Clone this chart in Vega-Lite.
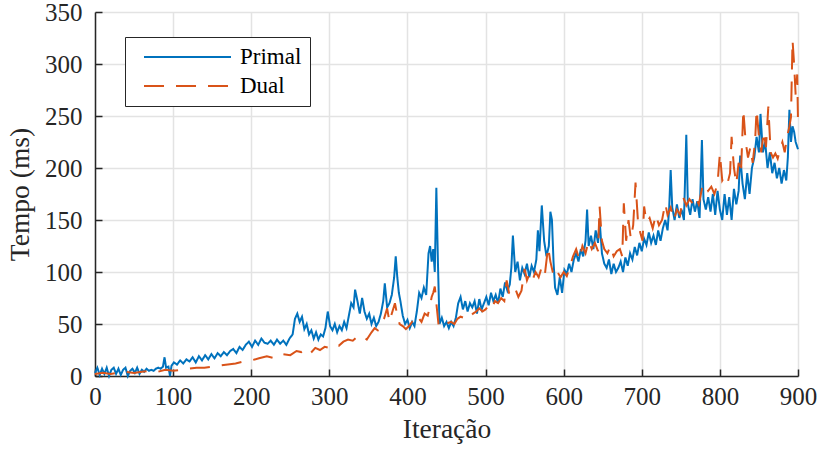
{
  "$schema": "https://vega.github.io/schema/vega-lite/v6.json",
  "width": 703,
  "height": 364,
  "autosize": "none",
  "padding": {"left": 95, "top": 12, "right": 22, "bottom": 74},
  "background": "white",
  "config": {
    "view": {"stroke": null},
    "font": "Liberation Serif",
    "legend": {"strokeColor": "#262626"},
    "axis": {
      "domainColor": "#262626",
      "domainWidth": 1.5,
      "tickColor": "#262626",
      "tickWidth": 1.5,
      "tickSize": -7,
      "gridColor": "#e3e3e3",
      "gridWidth": 1.5,
      "labelFont": "Liberation Serif",
      "labelFontSize": 25,
      "labelColor": "#262626",
      "labelFlush": false,
      "titleFont": "Liberation Serif",
      "titleFontSize": 27.5,
      "titleFontWeight": "normal",
      "titleColor": "#262626"
    }
  },
  "data": {
    "values": [
      {"it":0,"t":3,"s":"Primal"},{"it":3,"t":8,"s":"Primal"},{"it":6,"t":1,"s":"Primal"},{"it":9,"t":7,"s":"Primal"},{"it":12,"t":2,"s":"Primal"},{"it":15,"t":8,"s":"Primal"},{"it":18,"t":0,"s":"Primal"},{"it":21,"t":6,"s":"Primal"},{"it":24,"t":8,"s":"Primal"},{"it":27,"t":2,"s":"Primal"},{"it":30,"t":7,"s":"Primal"},{"it":33,"t":1,"s":"Primal"},{"it":36,"t":6,"s":"Primal"},{"it":39,"t":8,"s":"Primal"},{"it":42,"t":0,"s":"Primal"},{"it":45,"t":5,"s":"Primal"},{"it":48,"t":7,"s":"Primal"},{"it":51,"t":3,"s":"Primal"},{"it":54,"t":8,"s":"Primal"},{"it":57,"t":2,"s":"Primal"},{"it":60,"t":6,"s":"Primal"},{"it":63,"t":4,"s":"Primal"},{"it":66,"t":7,"s":"Primal"},{"it":69,"t":5,"s":"Primal"},{"it":72,"t":6,"s":"Primal"},{"it":75,"t":5,"s":"Primal"},{"it":78,"t":7,"s":"Primal"},{"it":81,"t":8,"s":"Primal"},{"it":84,"t":7,"s":"Primal"},{"it":87,"t":9,"s":"Primal"},{"it":89,"t":18,"s":"Primal"},{"it":91,"t":8,"s":"Primal"},{"it":94,"t":9,"s":"Primal"},{"it":96,"t":0,"s":"Primal"},{"it":98,"t":10,"s":"Primal"},{"it":101,"t":13,"s":"Primal"},{"it":105,"t":11,"s":"Primal"},{"it":109,"t":15,"s":"Primal"},{"it":113,"t":12,"s":"Primal"},{"it":117,"t":16,"s":"Primal"},{"it":121,"t":14,"s":"Primal"},{"it":125,"t":18,"s":"Primal"},{"it":129,"t":13,"s":"Primal"},{"it":133,"t":19,"s":"Primal"},{"it":137,"t":15,"s":"Primal"},{"it":141,"t":20,"s":"Primal"},{"it":145,"t":16,"s":"Primal"},{"it":149,"t":21,"s":"Primal"},{"it":153,"t":17,"s":"Primal"},{"it":157,"t":22,"s":"Primal"},{"it":161,"t":19,"s":"Primal"},{"it":165,"t":23,"s":"Primal"},{"it":169,"t":20,"s":"Primal"},{"it":173,"t":24,"s":"Primal"},{"it":177,"t":26,"s":"Primal"},{"it":181,"t":22,"s":"Primal"},{"it":185,"t":28,"s":"Primal"},{"it":189,"t":25,"s":"Primal"},{"it":193,"t":30,"s":"Primal"},{"it":197,"t":33,"s":"Primal"},{"it":201,"t":28,"s":"Primal"},{"it":205,"t":34,"s":"Primal"},{"it":209,"t":30,"s":"Primal"},{"it":213,"t":36,"s":"Primal"},{"it":217,"t":32,"s":"Primal"},{"it":221,"t":31,"s":"Primal"},{"it":225,"t":34,"s":"Primal"},{"it":229,"t":30,"s":"Primal"},{"it":233,"t":35,"s":"Primal"},{"it":237,"t":31,"s":"Primal"},{"it":241,"t":34,"s":"Primal"},{"it":245,"t":30,"s":"Primal"},{"it":249,"t":36,"s":"Primal"},{"it":253,"t":40,"s":"Primal"},{"it":256,"t":55,"s":"Primal"},{"it":259,"t":60,"s":"Primal"},{"it":262,"t":52,"s":"Primal"},{"it":265,"t":57,"s":"Primal"},{"it":268,"t":45,"s":"Primal"},{"it":271,"t":50,"s":"Primal"},{"it":274,"t":40,"s":"Primal"},{"it":277,"t":44,"s":"Primal"},{"it":280,"t":36,"s":"Primal"},{"it":283,"t":42,"s":"Primal"},{"it":286,"t":35,"s":"Primal"},{"it":289,"t":40,"s":"Primal"},{"it":292,"t":38,"s":"Primal"},{"it":295,"t":46,"s":"Primal"},{"it":298,"t":62,"s":"Primal"},{"it":301,"t":48,"s":"Primal"},{"it":304,"t":44,"s":"Primal"},{"it":307,"t":50,"s":"Primal"},{"it":310,"t":42,"s":"Primal"},{"it":313,"t":48,"s":"Primal"},{"it":316,"t":44,"s":"Primal"},{"it":319,"t":52,"s":"Primal"},{"it":322,"t":46,"s":"Primal"},{"it":325,"t":58,"s":"Primal"},{"it":328,"t":70,"s":"Primal"},{"it":331,"t":66,"s":"Primal"},{"it":333,"t":83,"s":"Primal"},{"it":336,"t":72,"s":"Primal"},{"it":339,"t":60,"s":"Primal"},{"it":342,"t":75,"s":"Primal"},{"it":345,"t":62,"s":"Primal"},{"it":348,"t":55,"s":"Primal"},{"it":351,"t":60,"s":"Primal"},{"it":354,"t":50,"s":"Primal"},{"it":357,"t":56,"s":"Primal"},{"it":360,"t":48,"s":"Primal"},{"it":363,"t":52,"s":"Primal"},{"it":366,"t":60,"s":"Primal"},{"it":369,"t":72,"s":"Primal"},{"it":371,"t":89,"s":"Primal"},{"it":374,"t":66,"s":"Primal"},{"it":377,"t":70,"s":"Primal"},{"it":380,"t":78,"s":"Primal"},{"it":383,"t":95,"s":"Primal"},{"it":385,"t":115,"s":"Primal"},{"it":387,"t":95,"s":"Primal"},{"it":389,"t":80,"s":"Primal"},{"it":391,"t":72,"s":"Primal"},{"it":394,"t":58,"s":"Primal"},{"it":397,"t":50,"s":"Primal"},{"it":400,"t":54,"s":"Primal"},{"it":403,"t":46,"s":"Primal"},{"it":406,"t":52,"s":"Primal"},{"it":409,"t":48,"s":"Primal"},{"it":412,"t":62,"s":"Primal"},{"it":415,"t":80,"s":"Primal"},{"it":418,"t":75,"s":"Primal"},{"it":421,"t":85,"s":"Primal"},{"it":424,"t":78,"s":"Primal"},{"it":427,"t":118,"s":"Primal"},{"it":429,"t":125,"s":"Primal"},{"it":431,"t":110,"s":"Primal"},{"it":433,"t":122,"s":"Primal"},{"it":435,"t":100,"s":"Primal"},{"it":437,"t":181,"s":"Primal"},{"it":439,"t":110,"s":"Primal"},{"it":441,"t":50,"s":"Primal"},{"it":444,"t":56,"s":"Primal"},{"it":447,"t":48,"s":"Primal"},{"it":450,"t":52,"s":"Primal"},{"it":453,"t":46,"s":"Primal"},{"it":456,"t":52,"s":"Primal"},{"it":459,"t":48,"s":"Primal"},{"it":462,"t":56,"s":"Primal"},{"it":465,"t":70,"s":"Primal"},{"it":468,"t":76,"s":"Primal"},{"it":471,"t":64,"s":"Primal"},{"it":474,"t":72,"s":"Primal"},{"it":477,"t":62,"s":"Primal"},{"it":480,"t":70,"s":"Primal"},{"it":483,"t":66,"s":"Primal"},{"it":486,"t":72,"s":"Primal"},{"it":489,"t":60,"s":"Primal"},{"it":492,"t":74,"s":"Primal"},{"it":495,"t":64,"s":"Primal"},{"it":498,"t":70,"s":"Primal"},{"it":501,"t":76,"s":"Primal"},{"it":504,"t":68,"s":"Primal"},{"it":507,"t":80,"s":"Primal"},{"it":510,"t":72,"s":"Primal"},{"it":513,"t":78,"s":"Primal"},{"it":516,"t":70,"s":"Primal"},{"it":519,"t":84,"s":"Primal"},{"it":522,"t":76,"s":"Primal"},{"it":525,"t":90,"s":"Primal"},{"it":528,"t":82,"s":"Primal"},{"it":531,"t":88,"s":"Primal"},{"it":533,"t":104,"s":"Primal"},{"it":535,"t":135,"s":"Primal"},{"it":538,"t":100,"s":"Primal"},{"it":541,"t":110,"s":"Primal"},{"it":544,"t":92,"s":"Primal"},{"it":547,"t":104,"s":"Primal"},{"it":550,"t":98,"s":"Primal"},{"it":553,"t":108,"s":"Primal"},{"it":556,"t":95,"s":"Primal"},{"it":559,"t":106,"s":"Primal"},{"it":562,"t":100,"s":"Primal"},{"it":565,"t":112,"s":"Primal"},{"it":567,"t":140,"s":"Primal"},{"it":569,"t":120,"s":"Primal"},{"it":572,"t":164,"s":"Primal"},{"it":575,"t":130,"s":"Primal"},{"it":578,"t":115,"s":"Primal"},{"it":581,"t":125,"s":"Primal"},{"it":583,"t":158,"s":"Primal"},{"it":585,"t":150,"s":"Primal"},{"it":587,"t":110,"s":"Primal"},{"it":589,"t":85,"s":"Primal"},{"it":592,"t":78,"s":"Primal"},{"it":595,"t":95,"s":"Primal"},{"it":598,"t":80,"s":"Primal"},{"it":601,"t":102,"s":"Primal"},{"it":604,"t":98,"s":"Primal"},{"it":607,"t":108,"s":"Primal"},{"it":610,"t":100,"s":"Primal"},{"it":613,"t":112,"s":"Primal"},{"it":616,"t":118,"s":"Primal"},{"it":619,"t":110,"s":"Primal"},{"it":622,"t":122,"s":"Primal"},{"it":625,"t":115,"s":"Primal"},{"it":628,"t":130,"s":"Primal"},{"it":630,"t":160,"s":"Primal"},{"it":632,"t":125,"s":"Primal"},{"it":635,"t":135,"s":"Primal"},{"it":638,"t":122,"s":"Primal"},{"it":641,"t":140,"s":"Primal"},{"it":644,"t":128,"s":"Primal"},{"it":646,"t":150,"s":"Primal"},{"it":649,"t":118,"s":"Primal"},{"it":652,"t":108,"s":"Primal"},{"it":655,"t":104,"s":"Primal"},{"it":658,"t":112,"s":"Primal"},{"it":661,"t":98,"s":"Primal"},{"it":664,"t":108,"s":"Primal"},{"it":667,"t":100,"s":"Primal"},{"it":670,"t":104,"s":"Primal"},{"it":673,"t":110,"s":"Primal"},{"it":676,"t":100,"s":"Primal"},{"it":679,"t":114,"s":"Primal"},{"it":682,"t":106,"s":"Primal"},{"it":685,"t":118,"s":"Primal"},{"it":688,"t":112,"s":"Primal"},{"it":691,"t":124,"s":"Primal"},{"it":694,"t":116,"s":"Primal"},{"it":697,"t":128,"s":"Primal"},{"it":700,"t":120,"s":"Primal"},{"it":703,"t":132,"s":"Primal"},{"it":706,"t":126,"s":"Primal"},{"it":709,"t":138,"s":"Primal"},{"it":712,"t":128,"s":"Primal"},{"it":715,"t":135,"s":"Primal"},{"it":718,"t":126,"s":"Primal"},{"it":721,"t":140,"s":"Primal"},{"it":724,"t":130,"s":"Primal"},{"it":727,"t":142,"s":"Primal"},{"it":730,"t":150,"s":"Primal"},{"it":733,"t":140,"s":"Primal"},{"it":735,"t":160,"s":"Primal"},{"it":737,"t":198,"s":"Primal"},{"it":739,"t":162,"s":"Primal"},{"it":742,"t":150,"s":"Primal"},{"it":745,"t":165,"s":"Primal"},{"it":748,"t":152,"s":"Primal"},{"it":751,"t":160,"s":"Primal"},{"it":754,"t":150,"s":"Primal"},{"it":757,"t":232,"s":"Primal"},{"it":759,"t":165,"s":"Primal"},{"it":762,"t":155,"s":"Primal"},{"it":765,"t":170,"s":"Primal"},{"it":768,"t":158,"s":"Primal"},{"it":771,"t":168,"s":"Primal"},{"it":774,"t":152,"s":"Primal"},{"it":777,"t":227,"s":"Primal"},{"it":779,"t":170,"s":"Primal"},{"it":782,"t":160,"s":"Primal"},{"it":785,"t":172,"s":"Primal"},{"it":788,"t":158,"s":"Primal"},{"it":791,"t":175,"s":"Primal"},{"it":794,"t":155,"s":"Primal"},{"it":797,"t":178,"s":"Primal"},{"it":800,"t":160,"s":"Primal"},{"it":803,"t":150,"s":"Primal"},{"it":806,"t":175,"s":"Primal"},{"it":809,"t":155,"s":"Primal"},{"it":812,"t":172,"s":"Primal"},{"it":815,"t":150,"s":"Primal"},{"it":818,"t":180,"s":"Primal"},{"it":821,"t":165,"s":"Primal"},{"it":824,"t":178,"s":"Primal"},{"it":826,"t":212,"s":"Primal"},{"it":829,"t":185,"s":"Primal"},{"it":832,"t":170,"s":"Primal"},{"it":835,"t":195,"s":"Primal"},{"it":838,"t":175,"s":"Primal"},{"it":841,"t":200,"s":"Primal"},{"it":844,"t":210,"s":"Primal"},{"it":847,"t":230,"s":"Primal"},{"it":850,"t":215,"s":"Primal"},{"it":852,"t":252,"s":"Primal"},{"it":855,"t":215,"s":"Primal"},{"it":858,"t":225,"s":"Primal"},{"it":861,"t":200,"s":"Primal"},{"it":864,"t":215,"s":"Primal"},{"it":867,"t":195,"s":"Primal"},{"it":870,"t":205,"s":"Primal"},{"it":873,"t":190,"s":"Primal"},{"it":876,"t":200,"s":"Primal"},{"it":879,"t":185,"s":"Primal"},{"it":882,"t":198,"s":"Primal"},{"it":885,"t":188,"s":"Primal"},{"it":887,"t":210,"s":"Primal"},{"it":889,"t":256,"s":"Primal"},{"it":891,"t":225,"s":"Primal"},{"it":893,"t":240,"s":"Primal"},{"it":895,"t":235,"s":"Primal"},{"it":897,"t":225,"s":"Primal"},{"it":900,"t":218,"s":"Primal"},
      {"it":0,"t":2,"s":"Dual"},{"it":10,"t":3,"s":"Dual"},{"it":20,"t":2,"s":"Dual"},{"it":30,"t":3,"s":"Dual"},{"it":40,"t":4,"s":"Dual"},{"it":50,"t":3,"s":"Dual"},{"it":60,"t":4,"s":"Dual"},{"it":70,"t":5,"s":"Dual"},{"it":80,"t":4,"s":"Dual"},{"it":90,"t":6,"s":"Dual"},{"it":100,"t":5,"s":"Dual"},{"it":110,"t":6,"s":"Dual"},{"it":120,"t":7,"s":"Dual"},{"it":130,"t":8,"s":"Dual"},{"it":140,"t":8,"s":"Dual"},{"it":150,"t":9,"s":"Dual"},{"it":160,"t":10,"s":"Dual"},{"it":170,"t":11,"s":"Dual"},{"it":180,"t":12,"s":"Dual"},{"it":190,"t":14,"s":"Dual"},{"it":200,"t":15,"s":"Dual"},{"it":210,"t":17,"s":"Dual"},{"it":220,"t":19,"s":"Dual"},{"it":230,"t":17,"s":"Dual"},{"it":240,"t":21,"s":"Dual"},{"it":250,"t":20,"s":"Dual"},{"it":258,"t":24,"s":"Dual"},{"it":264,"t":23,"s":"Dual"},{"it":270,"t":26,"s":"Dual"},{"it":276,"t":22,"s":"Dual"},{"it":282,"t":27,"s":"Dual"},{"it":288,"t":25,"s":"Dual"},{"it":294,"t":28,"s":"Dual"},{"it":300,"t":27,"s":"Dual"},{"it":306,"t":30,"s":"Dual"},{"it":312,"t":29,"s":"Dual"},{"it":318,"t":33,"s":"Dual"},{"it":324,"t":35,"s":"Dual"},{"it":330,"t":34,"s":"Dual"},{"it":336,"t":38,"s":"Dual"},{"it":342,"t":39,"s":"Dual"},{"it":348,"t":35,"s":"Dual"},{"it":354,"t":42,"s":"Dual"},{"it":358,"t":46,"s":"Dual"},{"it":362,"t":44,"s":"Dual"},{"it":366,"t":50,"s":"Dual"},{"it":370,"t":55,"s":"Dual"},{"it":374,"t":65,"s":"Dual"},{"it":377,"t":52,"s":"Dual"},{"it":380,"t":60,"s":"Dual"},{"it":384,"t":70,"s":"Dual"},{"it":387,"t":58,"s":"Dual"},{"it":390,"t":50,"s":"Dual"},{"it":394,"t":48,"s":"Dual"},{"it":398,"t":45,"s":"Dual"},{"it":402,"t":48,"s":"Dual"},{"it":406,"t":52,"s":"Dual"},{"it":410,"t":50,"s":"Dual"},{"it":414,"t":56,"s":"Dual"},{"it":418,"t":52,"s":"Dual"},{"it":422,"t":60,"s":"Dual"},{"it":426,"t":58,"s":"Dual"},{"it":429,"t":68,"s":"Dual"},{"it":431,"t":76,"s":"Dual"},{"it":433,"t":80,"s":"Dual"},{"it":435,"t":86,"s":"Dual"},{"it":437,"t":70,"s":"Dual"},{"it":440,"t":48,"s":"Dual"},{"it":444,"t":50,"s":"Dual"},{"it":448,"t":49,"s":"Dual"},{"it":452,"t":51,"s":"Dual"},{"it":456,"t":52,"s":"Dual"},{"it":460,"t":50,"s":"Dual"},{"it":464,"t":55,"s":"Dual"},{"it":468,"t":57,"s":"Dual"},{"it":472,"t":56,"s":"Dual"},{"it":476,"t":59,"s":"Dual"},{"it":480,"t":57,"s":"Dual"},{"it":484,"t":60,"s":"Dual"},{"it":488,"t":62,"s":"Dual"},{"it":492,"t":65,"s":"Dual"},{"it":496,"t":62,"s":"Dual"},{"it":500,"t":64,"s":"Dual"},{"it":504,"t":68,"s":"Dual"},{"it":508,"t":65,"s":"Dual"},{"it":512,"t":72,"s":"Dual"},{"it":516,"t":70,"s":"Dual"},{"it":520,"t":75,"s":"Dual"},{"it":524,"t":72,"s":"Dual"},{"it":527,"t":92,"s":"Dual"},{"it":530,"t":80,"s":"Dual"},{"it":534,"t":78,"s":"Dual"},{"it":538,"t":84,"s":"Dual"},{"it":542,"t":76,"s":"Dual"},{"it":546,"t":82,"s":"Dual"},{"it":550,"t":103,"s":"Dual"},{"it":553,"t":92,"s":"Dual"},{"it":556,"t":98,"s":"Dual"},{"it":560,"t":92,"s":"Dual"},{"it":564,"t":100,"s":"Dual"},{"it":568,"t":95,"s":"Dual"},{"it":572,"t":105,"s":"Dual"},{"it":576,"t":98,"s":"Dual"},{"it":580,"t":124,"s":"Dual"},{"it":583,"t":110,"s":"Dual"},{"it":586,"t":100,"s":"Dual"},{"it":589,"t":95,"s":"Dual"},{"it":592,"t":100,"s":"Dual"},{"it":596,"t":95,"s":"Dual"},{"it":600,"t":100,"s":"Dual"},{"it":604,"t":96,"s":"Dual"},{"it":608,"t":105,"s":"Dual"},{"it":612,"t":115,"s":"Dual"},{"it":616,"t":122,"s":"Dual"},{"it":620,"t":112,"s":"Dual"},{"it":624,"t":125,"s":"Dual"},{"it":628,"t":118,"s":"Dual"},{"it":632,"t":130,"s":"Dual"},{"it":636,"t":122,"s":"Dual"},{"it":640,"t":128,"s":"Dual"},{"it":644,"t":120,"s":"Dual"},{"it":646,"t":163,"s":"Dual"},{"it":649,"t":130,"s":"Dual"},{"it":652,"t":122,"s":"Dual"},{"it":656,"t":118,"s":"Dual"},{"it":660,"t":125,"s":"Dual"},{"it":664,"t":115,"s":"Dual"},{"it":668,"t":120,"s":"Dual"},{"it":672,"t":122,"s":"Dual"},{"it":675,"t":115,"s":"Dual"},{"it":677,"t":166,"s":"Dual"},{"it":680,"t":130,"s":"Dual"},{"it":683,"t":150,"s":"Dual"},{"it":686,"t":132,"s":"Dual"},{"it":689,"t":145,"s":"Dual"},{"it":692,"t":186,"s":"Dual"},{"it":695,"t":150,"s":"Dual"},{"it":698,"t":138,"s":"Dual"},{"it":701,"t":130,"s":"Dual"},{"it":703,"t":163,"s":"Dual"},{"it":706,"t":148,"s":"Dual"},{"it":710,"t":152,"s":"Dual"},{"it":714,"t":142,"s":"Dual"},{"it":718,"t":155,"s":"Dual"},{"it":722,"t":145,"s":"Dual"},{"it":726,"t":150,"s":"Dual"},{"it":730,"t":166,"s":"Dual"},{"it":733,"t":155,"s":"Dual"},{"it":737,"t":162,"s":"Dual"},{"it":741,"t":150,"s":"Dual"},{"it":745,"t":160,"s":"Dual"},{"it":749,"t":155,"s":"Dual"},{"it":753,"t":172,"s":"Dual"},{"it":757,"t":164,"s":"Dual"},{"it":761,"t":170,"s":"Dual"},{"it":765,"t":166,"s":"Dual"},{"it":769,"t":172,"s":"Dual"},{"it":773,"t":165,"s":"Dual"},{"it":777,"t":180,"s":"Dual"},{"it":781,"t":185,"s":"Dual"},{"it":785,"t":178,"s":"Dual"},{"it":789,"t":182,"s":"Dual"},{"it":793,"t":175,"s":"Dual"},{"it":797,"t":185,"s":"Dual"},{"it":800,"t":214,"s":"Dual"},{"it":803,"t":188,"s":"Dual"},{"it":806,"t":192,"s":"Dual"},{"it":810,"t":186,"s":"Dual"},{"it":813,"t":195,"s":"Dual"},{"it":815,"t":230,"s":"Dual"},{"it":818,"t":200,"s":"Dual"},{"it":821,"t":185,"s":"Dual"},{"it":824,"t":205,"s":"Dual"},{"it":827,"t":195,"s":"Dual"},{"it":830,"t":256,"s":"Dual"},{"it":833,"t":225,"s":"Dual"},{"it":836,"t":210,"s":"Dual"},{"it":839,"t":220,"s":"Dual"},{"it":842,"t":205,"s":"Dual"},{"it":845,"t":225,"s":"Dual"},{"it":847,"t":256,"s":"Dual"},{"it":850,"t":230,"s":"Dual"},{"it":853,"t":215,"s":"Dual"},{"it":856,"t":235,"s":"Dual"},{"it":859,"t":220,"s":"Dual"},{"it":862,"t":259,"s":"Dual"},{"it":865,"t":215,"s":"Dual"},{"it":868,"t":210,"s":"Dual"},{"it":871,"t":214,"s":"Dual"},{"it":874,"t":209,"s":"Dual"},{"it":877,"t":218,"s":"Dual"},{"it":880,"t":225,"s":"Dual"},{"it":883,"t":215,"s":"Dual"},{"it":886,"t":230,"s":"Dual"},{"it":889,"t":240,"s":"Dual"},{"it":891,"t":249,"s":"Dual"},{"it":893,"t":323,"s":"Dual"},{"it":895,"t":300,"s":"Dual"},{"it":897,"t":270,"s":"Dual"},{"it":899,"t":290,"s":"Dual"},{"it":900,"t":245,"s":"Dual"}
    ]
  },
  "encoding": {
    "x": {
      "field": "it", "type": "quantitative",
      "scale": {"domain": [0, 900], "nice": false},
      "axis": {"values": [0,100,200,300,400,500,600,700,800,900], "title": "Iteração", "labelPadding": 15, "titlePadding": 6}
    },
    "y": {
      "field": "t", "type": "quantitative",
      "scale": {"domain": [0, 350], "nice": false},
      "axis": {"values": [0,50,100,150,200,250,300,350], "title": "Tempo (ms)", "labelPadding": 20, "titlePadding": 10}
    },
    "color": {
      "field": "s", "type": "nominal",
      "scale": {"domain": ["Primal", "Dual"], "range": ["#0072BD", "#D95319"]},
      "legend": {
        "title": null,
        "orient": "none",
        "legendX": 30,
        "legendY": 25,
        "symbolType": "M-0.09,0H7.82",
        "symbolSize": 484,
        "symbolStrokeWidth": 2,
        "labelFont": "Liberation Serif",
        "labelFontSize": 23,
        "labelColor": "#000000",
        "labelOffset": 83,
        "strokeColor": "#262626",
        "fillColor": "white",
        "padding": 8,
        "rowPadding": 5
      }
    },
    "strokeDash": {
      "field": "s", "type": "nominal",
      "scale": {"domain": ["Primal", "Dual"], "range": [[1, 0], [20, 12]]},
      "legend": null
    }
  },
  "layer": [
    {
      "transform": [{"filter": "datum.s === 'Primal'"}],
      "mark": {"type": "line", "strokeWidth": 2}
    },
    {
      "transform": [{"filter": "datum.s === 'Dual'"}],
      "mark": {"type": "line", "strokeWidth": 2}
    }
  ]
}
